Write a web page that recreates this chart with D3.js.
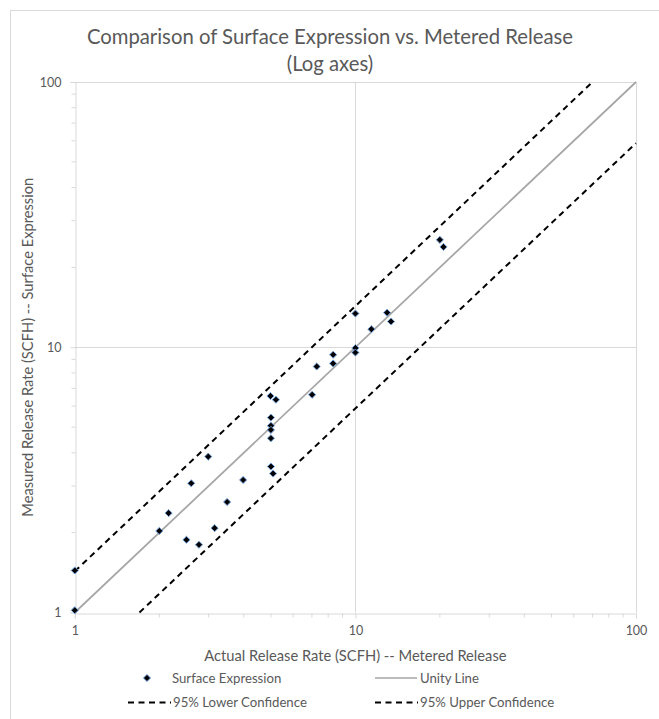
<!DOCTYPE html>
<meta charset="utf-8">
<style>

body {
  margin: 0;
  background: #fff;
}

text {
  font-family: Lato, "Open Sans", sans-serif;
  fill: #595959;
}

.grid line {
  stroke: #d9d9d9;
  stroke-width: 1px;
}

.axis path, .axis line {
  stroke: #d9d9d9;
  stroke-width: 1px;
}

</style>
<body>
<svg width="659" height="719"></svg>
</body>
<script src="https://d3js.org/d3.v7.min.js"></script>

<script>

// metered (actual) release vs. surface expression measurement, SCFH
var actualRate = [1, 1, 2.0, 2.16, 2.5, 2.6, 2.77, 2.99, 3.15, 3.49, 3.98,
  4.98, 5.21, 5.0, 5.0, 5.0, 5.0, 5.0, 5.09, 7.01, 7.28, 8.33, 8.33,
  10, 10, 10, 12.97, 13.4, 11.4, 20, 20.6];
var measuredRate = [1.44, 1.02, 2.03, 2.37, 1.88, 3.07, 1.80, 3.87, 2.08, 2.61, 3.16,
  6.55, 6.34, 5.43, 5.06, 4.88, 4.54, 3.55, 3.34, 6.62, 8.46, 9.37, 8.69,
  9.93, 9.55, 13.4, 13.5, 12.5, 11.7, 25.4, 23.9];

var unityX = [1, 100];
var unityY = [1, 100];
var upperX = [1, 70];
var upperY = [1.43, 100];
var lowerX = [1.7, 100];
var lowerY = [1, 58.8];

var majorTicks = [1, 10, 100];
var minorTicks = [2, 3, 4, 5, 6, 7, 8, 9, 20, 30, 40, 50, 60, 70, 80, 90];

var legendNames = ["Surface Expression", "Unity Line", "95% Lower Confidence", "95% Upper Confidence"];

var svg = d3.select("svg");

var plotLeft = 74.8, plotRight = 636, plotTop = 82, plotBottom = 612.5;

var x = d3.scaleLog().domain([1, 100]).range([plotLeft, plotRight]);
var y = d3.scaleLog().domain([1, 100]).range([plotBottom, plotTop]);

// outer chart border (cropped at right/bottom)
svg.append("rect")
    .attr("x", 10.5)
    .attr("y", 10.5)
    .attr("width", 700)
    .attr("height", 760)
    .attr("fill", "none")
    .attr("stroke", "#d9d9d9");

svg.append("text")
    .attr("x", 330)
    .attr("y", 44)
    .attr("text-anchor", "middle")
    .style("font-size", "20.3px")
    .text("Comparison of Surface Expression vs. Metered Release");

svg.append("text")
    .attr("x", 330)
    .attr("y", 71)
    .attr("text-anchor", "middle")
    .style("font-size", "20.3px")
    .text("(Log axes)");

// major gridlines
var grid = svg.append("g").attr("class", "grid");

grid.selectAll(".vg")
    .data(majorTicks.slice(1))
    .enter().append("line")
    .attr("x1", function(d) { return Math.round(x(d)) + 0.5; })
    .attr("x2", function(d) { return Math.round(x(d)) + 0.5; })
    .attr("y1", plotTop)
    .attr("y2", plotBottom);

grid.selectAll(".hg")
    .data(majorTicks.slice(1))
    .enter().append("line")
    .attr("x1", plotLeft)
    .attr("x2", plotRight)
    .attr("y1", function(d) { return Math.round(y(d)) + 0.5; })
    .attr("y2", function(d) { return Math.round(y(d)) + 0.5; });

// axes: major ticks with labels, minor ticks without
var xAxis = svg.append("g")
    .attr("class", "axis")
    .attr("transform", "translate(0," + (Math.round(plotBottom) + 0.5) + ")");

xAxis.call(d3.axisBottom(x).tickValues(majorTicks).tickFormat(d3.format("d")).tickSize(5).tickPadding(8));
xAxis.call(function(g) {
  g.selectAll(".minor")
      .data(minorTicks)
      .enter().append("line")
      .attr("class", "minor")
      .attr("x1", function(d) { return x(d); })
      .attr("x2", function(d) { return x(d); })
      .attr("y1", 0)
      .attr("y2", 4);
});
xAxis.selectAll("text")
    .style("font-family", "Lato, sans-serif")
    .style("font-size", "12.5px")
    .attr("fill", "#595959");

var yAxis = svg.append("g")
    .attr("class", "axis")
    .attr("transform", "translate(" + (Math.round(plotLeft) + 0.5) + ",0)");

yAxis.call(d3.axisLeft(y).tickValues(majorTicks).tickFormat(d3.format("d")).tickSize(5).tickPadding(9));
yAxis.call(function(g) {
  g.selectAll(".minor")
      .data(minorTicks)
      .enter().append("line")
      .attr("class", "minor")
      .attr("x1", -4)
      .attr("x2", 0)
      .attr("y1", function(d) { return y(d); })
      .attr("y2", function(d) { return y(d); });
});
yAxis.selectAll("text")
    .style("font-family", "Lato, sans-serif")
    .style("font-size", "12.5px")
    .attr("fill", "#595959");

svg.append("text")
    .attr("x", (plotLeft + plotRight) / 2)
    .attr("y", 661)
    .attr("text-anchor", "middle")
    .style("font-size", "14.7px")
    .text("Actual Release Rate (SCFH) -- Metered Release");

svg.append("text")
    .attr("transform", "translate(33," + ((plotTop + plotBottom) / 2) + ") rotate(-90)")
    .attr("text-anchor", "middle")
    .style("font-size", "14.7px")
    .text("Measured Release Rate (SCFH) -- Surface Expression");

// lines
var line = d3.line()
    .x(function(d) { return x(d[0]); })
    .y(function(d) { return y(d[1]); });

svg.append("path")
    .datum(d3.zip(unityX, unityY))
    .attr("d", line)
    .attr("fill", "none")
    .attr("stroke", "#a6a6a6")
    .attr("stroke-width", 1.75);

svg.append("path")
    .datum(d3.zip(upperX, upperY))
    .attr("d", line)
    .attr("fill", "none")
    .attr("stroke", "#000")
    .attr("stroke-width", 2)
    .attr("stroke-dasharray", "6,4.5");

svg.append("path")
    .datum(d3.zip(lowerX, lowerY))
    .attr("d", line)
    .attr("fill", "none")
    .attr("stroke", "#000")
    .attr("stroke-width", 2)
    .attr("stroke-dasharray", "6,4.5");

// points
var diamond = d3.symbol().type(d3.symbolDiamond2).size(32);

svg.append("g")
    .selectAll("path")
    .data(d3.zip(actualRate, measuredRate))
    .enter().append("path")
    .attr("d", diamond)
    .attr("transform", function(d) { return "translate(" + x(d[0]) + "," + y(d[1]) + ")"; })
    .attr("fill", "#000")
    .attr("stroke", "#6f9fd8")
    .attr("stroke-width", 1);

// legend (2 x 2)
var legendPos = [[128, 678], [375, 678], [128, 702.5], [375, 702.5]];

var legend = svg.selectAll(".legend")
    .data(legendNames)
    .enter().append("g")
    .attr("class", "legend")
    .attr("transform", function(d, i) { return "translate(" + legendPos[i][0] + "," + legendPos[i][1] + ")"; });

legend.filter(function(d, i) { return i == 0; })
    .append("path")
    .attr("d", diamond)
    .attr("transform", "translate(19,0)")
    .attr("fill", "#000")
    .attr("stroke", "#6f9fd8");

legend.filter(function(d, i) { return i == 1; })
    .append("line")
    .attr("x1", 0).attr("x2", 42)
    .attr("stroke", "#a6a6a6")
    .attr("stroke-width", 1.5);

legend.filter(function(d, i) { return i >= 2; })
    .append("line")
    .attr("x1", 0).attr("x2", 43)
    .attr("stroke", "#000")
    .attr("stroke-width", 2)
    .attr("stroke-dasharray", "6,4.5");

legend.append("text")
    .attr("x", function(d, i) { return i == 0 ? 44 : 45; })
    .attr("dy", "0.35em")
    .style("font-size", "13.2px")
    .text(function(d) { return d; });

</script>
</html>
